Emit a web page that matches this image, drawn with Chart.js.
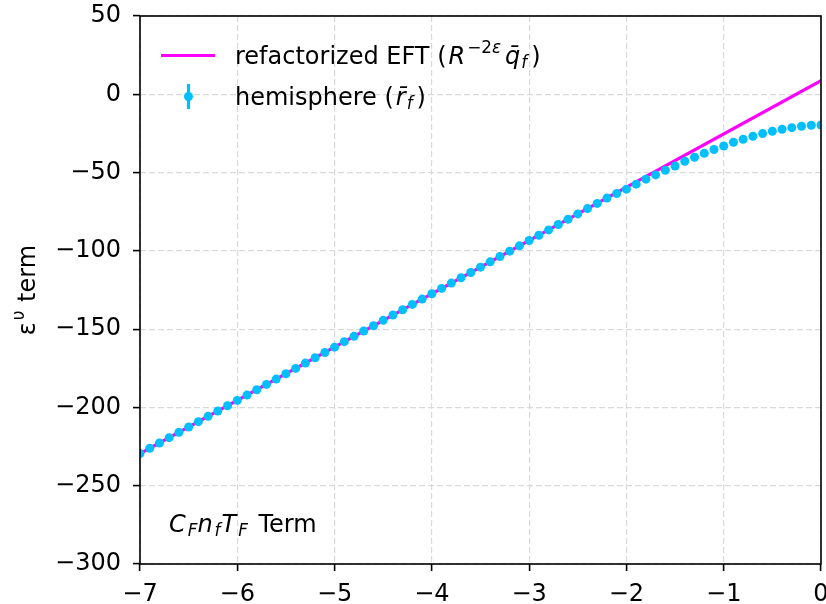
<!DOCTYPE html>
<html>
<head>
<meta charset="utf-8">
<script src="https://cdn.jsdelivr.net/npm/chart.js@4/dist/chart.umd.min.js"></script>
<style>
  html, body { margin: 0; padding: 0; background: #fff; }
  canvas { display: block; }
</style>
</head>
<body>
<canvas id="chart" width="826" height="604"></canvas>
<script>
// refactorized EFT: straight line end points
const eftX = [-7, 0];
const eftY = [-229.5, 8.7];

// hemisphere points
const hemiX = [
  -7.0, -6.9, -6.8, -6.7, -6.6, -6.5, -6.4, -6.3, -6.2, -6.1,
  -6.0, -5.9, -5.8, -5.7, -5.6, -5.5, -5.4, -5.3, -5.2, -5.1,
  -5.0, -4.9, -4.8, -4.7, -4.6, -4.5, -4.4, -4.3, -4.2, -4.1,
  -4.0, -3.9, -3.8, -3.7, -3.6, -3.5, -3.4, -3.3, -3.2, -3.1,
  -3.0, -2.9, -2.8, -2.7, -2.6, -2.5, -2.4, -2.3, -2.2, -2.1,
  -2.0, -1.9, -1.8, -1.7, -1.6, -1.5, -1.4, -1.3, -1.2, -1.1,
  -1.0, -0.9, -0.8, -0.7, -0.6, -0.5, -0.4, -0.3, -0.2, -0.1, 0.0
];
const hemiY = [
  -229.5, -226.1, -222.7, -219.3, -215.9, -212.5, -209.1, -205.7, -202.3, -198.9,
  -195.5, -192.1, -188.7, -185.3, -181.9, -178.5, -175.1, -171.7, -168.3, -164.9,
  -161.5, -158.0, -154.6, -151.2, -147.8, -144.4, -141.0, -137.6, -134.2, -130.8,
  -127.4, -124.0, -120.6, -117.2, -113.8, -110.4, -107.0, -103.6, -100.2, -96.8,
  -93.4, -90.0, -86.6, -83.2, -79.8, -76.4, -73.0, -69.7, -66.3, -63.4,
  -60.6, -57.4, -54.2, -51.5, -48.5, -45.8, -42.8, -40.2, -37.7, -35.3,
  -33.0, -30.6, -28.7, -26.8, -25.1, -23.6, -22.3, -21.3, -20.4, -19.8, -19.6
];

const xTicks = [-7, -6, -5, -4, -3, -2, -1, 0];
const yTicks = [50, 0, -50, -100, -150, -200, -250, -300];

const FONT = '"DejaVu Sans", sans-serif';
const MAGENTA = "#ff00ff";
const CYAN = "#00bfff";

function toPoints(xs, ys) {
  return xs.map((x, i) => ({ x: x, y: ys[i] }));
}

function fmt(v) {
  return String(v).replace("-", "\u2212");
}

// draws a run of text pieces (roman / italic / sub / superscripts)
function drawRich(ctx, x, y, parts, size) {
  let cx = x;
  parts.forEach(p => {
    const s = size * (p.scale || 1);
    ctx.font = (p.it ? "italic " : "") + s + "px " + FONT;
    ctx.fillText(p.t, cx, y + (p.dy || 0));
    cx += ctx.measureText(p.t).width + (p.gap || 0);
  });
}

const extras = {
  id: "extras",
  afterDatasetsDraw(chart) {
    const ctx = chart.ctx;
    const a = chart.chartArea;
    ctx.save();

    // frame
    ctx.strokeStyle = "#000";
    ctx.lineWidth = 1.6;
    ctx.strokeRect(a.left, a.top, a.right - a.left, a.bottom - a.top);

    ctx.fillStyle = "#000";
    ctx.textBaseline = "alphabetic";
    ctx.textAlign = "left";

    // legend
    ctx.strokeStyle = MAGENTA;
    ctx.lineWidth = 3.2;
    ctx.beginPath();
    ctx.moveTo(161, 55.5);
    ctx.lineTo(215, 55.5);
    ctx.stroke();
    drawRich(ctx, 235, 64, [
      { t: "refactorized EFT (", gap: 2 },
      { t: "R", it: true, gap: 2 },
      { t: "\u22122", scale: 0.7, dy: -11 },
      { t: "\u03b5", it: true, scale: 0.7, dy: -11, gap: 4 },
      { t: "q\u0304", it: true, gap: 1 },
      { t: "f", it: true, scale: 0.7, dy: 4, gap: 4 },
      { t: ")" }
    ], 24);

    ctx.strokeStyle = CYAN;
    ctx.lineWidth = 3.2;
    ctx.beginPath();
    ctx.moveTo(188.5, 84);
    ctx.lineTo(188.5, 109);
    ctx.stroke();
    ctx.fillStyle = CYAN;
    ctx.beginPath();
    ctx.arc(188.5, 96.5, 4.5, 0, Math.PI * 2);
    ctx.fill();
    ctx.fillStyle = "#000";
    drawRich(ctx, 235, 105, [
      { t: "hemisphere (", gap: 2 },
      { t: "r\u0304", it: true, gap: 1 },
      { t: "f", it: true, scale: 0.7, dy: 4, gap: 4 },
      { t: ")" }
    ], 24);

    // annotation
    drawRich(ctx, 169, 532, [
      { t: "C", it: true, gap: 2 },
      { t: "F", it: true, scale: 0.7, dy: 4 },
      { t: "n", it: true, gap: 2 },
      { t: "f", it: true, scale: 0.7, dy: 4, gap: 1 },
      { t: "T", it: true, gap: 2 },
      { t: "F", it: true, scale: 0.7, dy: 4, gap: 3 },
      { t: " Term" }
    ], 24);

    // y axis title
    ctx.save();
    ctx.translate(35, 290);
    ctx.rotate(-Math.PI / 2);
    ctx.font = "24px " + FONT;
    const w1 = ctx.measureText("\u03b5").width;
    ctx.font = "17px " + FONT;
    const w2 = ctx.measureText("\u03c5").width;
    ctx.font = "24px " + FONT;
    const w3 = ctx.measureText(" term").width;
    drawRich(ctx, -(w1 + w2 + w3 + 3) / 2, 0, [
      { t: "\u03b5", gap: 2 },
      { t: "\u03c5", scale: 0.7, dy: -11, gap: 1 },
      { t: " term" }
    ], 24);
    ctx.restore();

    ctx.restore();
  }
};

new Chart(document.getElementById("chart"), {
  type: "scatter",
  data: {
    datasets: [
      {
        label: "hemisphere",
        data: toPoints(hemiX, hemiY),
        showLine: false,
        pointRadius: 4.5,
        pointBorderWidth: 0,
        pointBackgroundColor: CYAN,
        borderColor: CYAN,
        order: 0
      },
      {
        label: "refactorized EFT",
        data: toPoints(eftX, eftY),
        showLine: true,
        borderColor: MAGENTA,
        borderWidth: 3.2,
        pointRadius: 0,
        order: 1
      }
    ]
  },
  options: {
    responsive: false,
    animation: false,
    maintainAspectRatio: false,
    layout: { padding: { top: 16, right: 5, left: 0, bottom: 0 } },
    plugins: {
      legend: { display: false },
      tooltip: { enabled: false }
    },
    scales: {
      x: {
        type: "linear",
        min: -7,
        max: 0,
        afterBuildTicks: s => { s.ticks = xTicks.map(v => ({ value: v })); },
        afterFit: s => {
          s.height = 40;
          s.paddingLeft = 0;
          s.paddingRight = 0;
        },
        ticks: {
          color: "#000",
          font: { family: FONT, size: 24 },
          padding: 9,
          maxRotation: 0,
          autoSkip: false,
          callback: v => fmt(v)
        },
        grid: {
          color: "#d9d9d9",
          lineWidth: 1.2,
          tickColor: "#000",
          tickWidth: 1.6,
          tickLength: 7
        },
        border: { display: false, dash: [6, 3] }
      },
      y: {
        type: "linear",
        min: -300,
        max: 50,
        afterBuildTicks: s => { s.ticks = yTicks.map(v => ({ value: v })); },
        afterFit: s => {
          s.width = 140;
          s.paddingTop = 0;
          s.paddingBottom = 0;
        },
        ticks: {
          color: "#000",
          font: { family: FONT, size: 24 },
          padding: 12,
          autoSkip: false,
          callback: v => fmt(v)
        },
        grid: {
          color: "#d9d9d9",
          lineWidth: 1.2,
          tickColor: "#000",
          tickWidth: 1.6,
          tickLength: 7
        },
        border: { display: false, dash: [6, 3] }
      }
    }
  },
  plugins: [extras]
});
</script>
</body>
</html>
